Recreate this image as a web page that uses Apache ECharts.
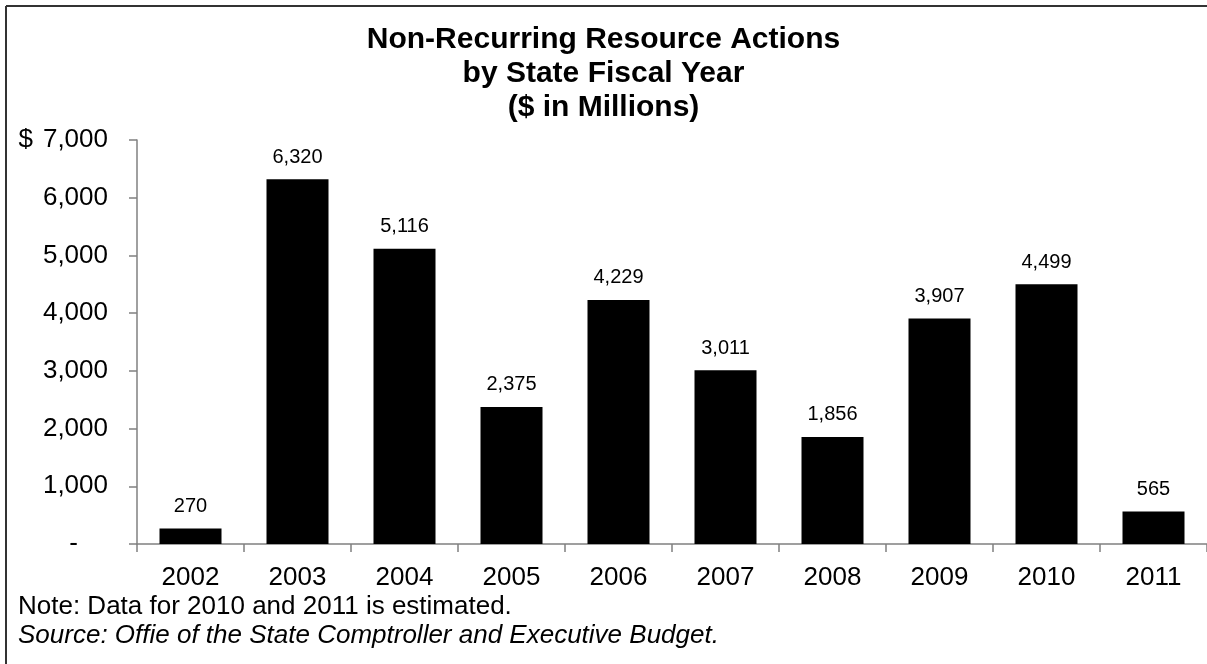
<!DOCTYPE html>
<html><head><meta charset="utf-8">
<script src="https://cdn.jsdelivr.net/npm/echarts@6/dist/echarts.min.js"></script>
<style>html,body{margin:0;padding:0;background:#fff}#c{width:1207px;height:664px}</style>
</head><body><div id="c"></div>
<script>
const titleLines = ['Non-Recurring Resource Actions', 'by State Fiscal Year', '($ in Millions)'];
const years = ['2002','2003','2004','2005','2006','2007','2008','2009','2010','2011'];
const values = [270, 6320, 5116, 2375, 4229, 3011, 1856, 3907, 4499, 565];
const noteText = 'Note: Data for 2010 and 2011 is estimated.';
const sourceText = 'Source: Offie of the State Comptroller and Executive Budget.';
const FONT = '"Liberation Sans", Arial, sans-serif';

const chart = echarts.init(document.getElementById('c'));
chart.setOption({
  animation: false,
  backgroundColor: '#fff',
  title: {
    text: titleLines.join('\n'),
    left: 'center', top: 18,
    textStyle: { fontFamily: FONT, fontWeight: 'bold', fontSize: 30, lineHeight: 34, color: '#000' }
  },
  grid: { left: 137, width: 1072, top: 140, bottom: 120, containLabel: false },
  xAxis: {
    type: 'category', data: years,
    axisLine: { lineStyle: { color: '#808080', width: 1.5 } },
    axisTick: { show: true, alignWithLabel: false, length: 8, lineStyle: { color: '#808080', width: 1.5 } },
    axisLabel: { fontFamily: FONT, fontSize: 26, color: '#000', margin: 21 }
  },
  yAxis: {
    type: 'value', min: 0, max: 7000, interval: 1000,
    splitLine: { show: false },
    axisLine: { show: true, lineStyle: { color: '#808080', width: 1.5 } },
    axisTick: { show: true, length: 8, lineStyle: { color: '#808080', width: 1.5 } },
    axisLabel: {
      fontFamily: FONT, fontSize: 26, color: '#000', margin: 29,
      formatter: v => {
        if (v === 0) return '{z|-}';
        const s = v.toLocaleString('en-US');
        return v === 7000 ? '{d|$}' + s : s;
      },
      rich: {
        z: { fontFamily: FONT, fontSize: 26, color: '#000', padding: [0, 30, 0, 0] },
        d: { fontFamily: FONT, fontSize: 26, color: '#000', padding: [0, 10, 0, 0] }
      }
    }
  },
  series: [{
    type: 'bar', data: values, barWidth: 62,
    itemStyle: { color: '#000' },
    label: {
      show: true, position: 'top', distance: 12,
      fontFamily: FONT, fontSize: 20, color: '#000',
      formatter: p => p.value.toLocaleString('en-US')
    }
  }],
  graphic: [
    { type: 'line', shape: { x1: 6, y1: 6, x2: 1207, y2: 6 }, style: { stroke: '#333', lineWidth: 2 } },
    { type: 'line', shape: { x1: 6, y1: 6, x2: 6, y2: 664 }, style: { stroke: '#333', lineWidth: 2 } },
    { type: 'text', left: 18, top: 594, style: { text: noteText, font: '26px ' + FONT, fill: '#000' } },
    { type: 'text', left: 18, top: 623, style: { text: sourceText, font: 'italic 26px ' + FONT, fill: '#000' } }
  ]
});
</script></body></html>
